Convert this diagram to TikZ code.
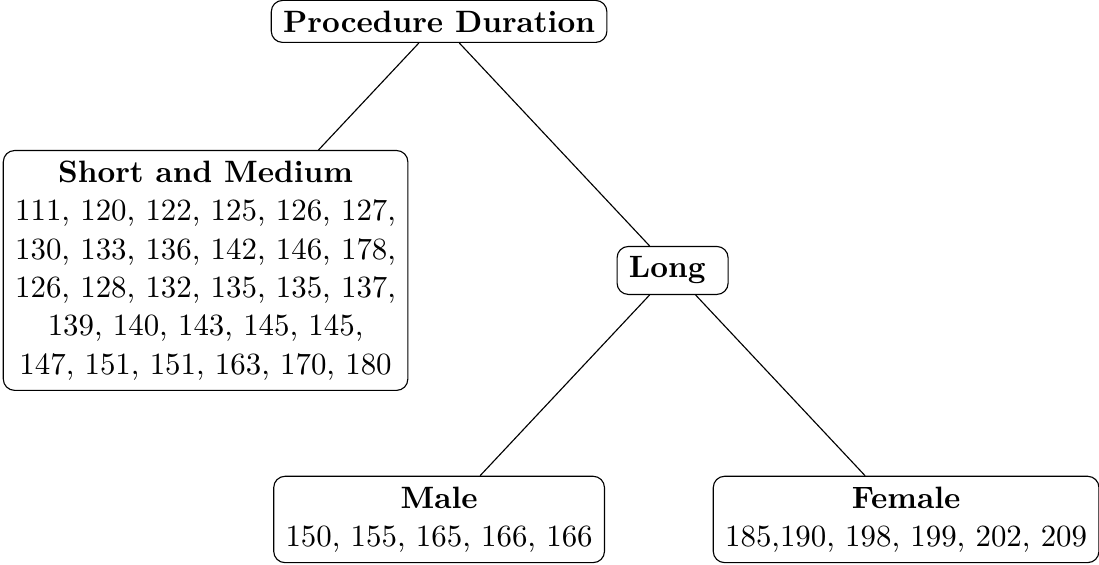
\documentclass[11pt,tikz,border=0pt]{standalone}
\begin{document}
\begin{tikzpicture}[
            every node/.style={draw, rounded corners, align=center, inner xsep=4.2pt},
            edge from parent/.style={draw},
            level distance=88.3pt,
            level 1/.style={sibling distance=165.6pt},
            level 2/.style={sibling distance=165.6pt}
            ]
        \useasboundingbox (-155.7pt,-192.4pt) rectangle (234pt,7.6pt);
        \node[text depth=0pt] (duration) {\textbf{Procedure Duration}}
            child { node (short) {\textbf{Short and Medium}\\
                    111, 120, 122, 125, 126, 127,\\
                    130, 133, 136, 142, 146, 178,\\
                    126, 128, 132, 135, 135, 137,\\
                    139, 140, 143, 145, 145,\\
                    147, 151, 151, 163, 170, 180} }
            child { node (long) {\textbf{Long}\hspace{3.8pt}}
                child { node (male) {\textbf{Male}\\ 150, 155, 165, 166, 166} }
                child { node (female) {\textbf{Female}\\ 185,190, 198, 199, 202, 209} }
            };
        \end{tikzpicture}
\end{document}
